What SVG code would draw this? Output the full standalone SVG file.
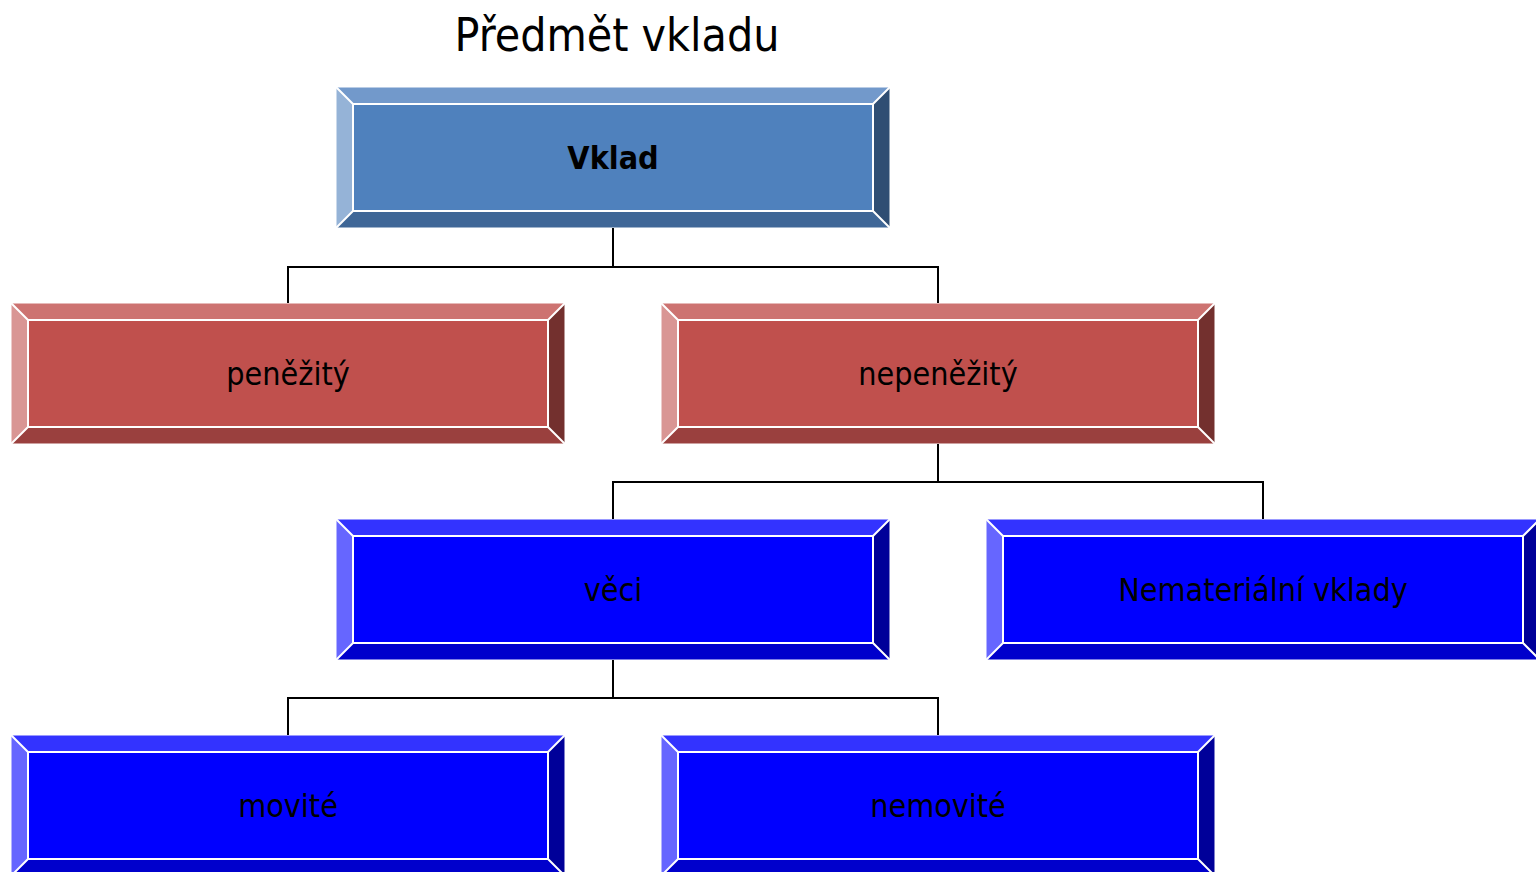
<svg xmlns="http://www.w3.org/2000/svg" width="1536" height="872" viewBox="0 0 1536 872">
<style>
  text{font-family:"DejaVu Sans Condensed","DejaVu Sans",sans-serif;fill:#000;text-anchor:middle}
  .title{font-size:46px}
  .lbl{font-size:32px}
  .bold{font-weight:bold}
  .edge{stroke:#fff;stroke-width:2;fill:none}
  .outline{stroke:#fff;stroke-width:1;stroke-opacity:0.5;fill:none}
  .st-t{fill:#7299CB}.st-l{fill:#95B3D7}.st-b{fill:#3F6797}.st-r{fill:#2F4E73}.st-f{fill:#4F81BD}
  .rd-t{fill:#CD7371}.rd-l{fill:#D99694}.rd-b{fill:#9A403E}.rd-r{fill:#73302E}.rd-f{fill:#C0504D}
  .bl-t{fill:#3333FF}.bl-l{fill:#6666FF}.bl-b{fill:#0000CC}.bl-r{fill:#000099}.bl-f{fill:#0000FF}
  .conn{stroke:#000;stroke-width:2;fill:none}
</style>
<defs>
  <path id="bevel-lines" class="edge" d="M0,0 L17,17 M554,0 L537,17 M0,141 L17,124 M554,141 L537,124 M17,17 H537 V124 H17 Z"/>
</defs>
<text class="title" x="617" y="51">Předmět vkladu</text>
<g id="connectors">
  <path class="conn" d="M613,228 V267 M288,303 V267 H938 V303"/>
  <path class="conn" d="M938,444 V482 M613,519 V482 H1263 V519"/>
  <path class="conn" d="M613,660 V698 M288,735 V698 H938 V735"/>
</g>
<g id="node-vklad" transform="translate(336,87)">
  <polygon class="st-t" points="0,0 554,0 537,17 17,17"/>
  <polygon class="st-l" points="0,0 17,17 17,124 0,141"/>
  <polygon class="st-b" points="0,141 17,124 537,124 554,141"/>
  <polygon class="st-r" points="554,0 554,141 537,124 537,17"/>
  <rect class="st-f" x="17" y="17" width="520" height="107"/>
  <use href="#bevel-lines"/>
  <rect class="outline" x="0.5" y="0.5" width="553" height="140"/>
  <text class="lbl bold" x="277" y="82">Vklad</text>
</g>
<g id="node-penezity" transform="translate(11,303)">
  <polygon class="rd-t" points="0,0 554,0 537,17 17,17"/>
  <polygon class="rd-l" points="0,0 17,17 17,124 0,141"/>
  <polygon class="rd-b" points="0,141 17,124 537,124 554,141"/>
  <polygon class="rd-r" points="554,0 554,141 537,124 537,17"/>
  <rect class="rd-f" x="17" y="17" width="520" height="107"/>
  <use href="#bevel-lines"/>
  <rect class="outline" x="0.5" y="0.5" width="553" height="140"/>
  <text class="lbl" x="277" y="82">peněžitý</text>
</g>
<g id="node-nepenezity" transform="translate(661,303)">
  <polygon class="rd-t" points="0,0 554,0 537,17 17,17"/>
  <polygon class="rd-l" points="0,0 17,17 17,124 0,141"/>
  <polygon class="rd-b" points="0,141 17,124 537,124 554,141"/>
  <polygon class="rd-r" points="554,0 554,141 537,124 537,17"/>
  <rect class="rd-f" x="17" y="17" width="520" height="107"/>
  <use href="#bevel-lines"/>
  <rect class="outline" x="0.5" y="0.5" width="553" height="140"/>
  <text class="lbl" x="277" y="82">nepeněžitý</text>
</g>
<g id="node-veci" transform="translate(336,519)">
  <polygon class="bl-t" points="0,0 554,0 537,17 17,17"/>
  <polygon class="bl-l" points="0,0 17,17 17,124 0,141"/>
  <polygon class="bl-b" points="0,141 17,124 537,124 554,141"/>
  <polygon class="bl-r" points="554,0 554,141 537,124 537,17"/>
  <rect class="bl-f" x="17" y="17" width="520" height="107"/>
  <use href="#bevel-lines"/>
  <rect class="outline" x="0.5" y="0.5" width="553" height="140"/>
  <text class="lbl" x="277" y="82">věci</text>
</g>
<g id="node-nematerialni" transform="translate(986,519)">
  <polygon class="bl-t" points="0,0 554,0 537,17 17,17"/>
  <polygon class="bl-l" points="0,0 17,17 17,124 0,141"/>
  <polygon class="bl-b" points="0,141 17,124 537,124 554,141"/>
  <polygon class="bl-r" points="554,0 554,141 537,124 537,17"/>
  <rect class="bl-f" x="17" y="17" width="520" height="107"/>
  <use href="#bevel-lines"/>
  <rect class="outline" x="0.5" y="0.5" width="553" height="140"/>
  <text class="lbl" x="277" y="82">Nemateriální vklady</text>
</g>
<g id="node-movite" transform="translate(11,735)">
  <polygon class="bl-t" points="0,0 554,0 537,17 17,17"/>
  <polygon class="bl-l" points="0,0 17,17 17,124 0,141"/>
  <polygon class="bl-b" points="0,141 17,124 537,124 554,141"/>
  <polygon class="bl-r" points="554,0 554,141 537,124 537,17"/>
  <rect class="bl-f" x="17" y="17" width="520" height="107"/>
  <use href="#bevel-lines"/>
  <rect class="outline" x="0.5" y="0.5" width="553" height="140"/>
  <text class="lbl" x="277" y="82">movité</text>
</g>
<g id="node-nemovite" transform="translate(661,735)">
  <polygon class="bl-t" points="0,0 554,0 537,17 17,17"/>
  <polygon class="bl-l" points="0,0 17,17 17,124 0,141"/>
  <polygon class="bl-b" points="0,141 17,124 537,124 554,141"/>
  <polygon class="bl-r" points="554,0 554,141 537,124 537,17"/>
  <rect class="bl-f" x="17" y="17" width="520" height="107"/>
  <use href="#bevel-lines"/>
  <rect class="outline" x="0.5" y="0.5" width="553" height="140"/>
  <text class="lbl" x="277" y="82">nemovité</text>
</g>
</svg>
